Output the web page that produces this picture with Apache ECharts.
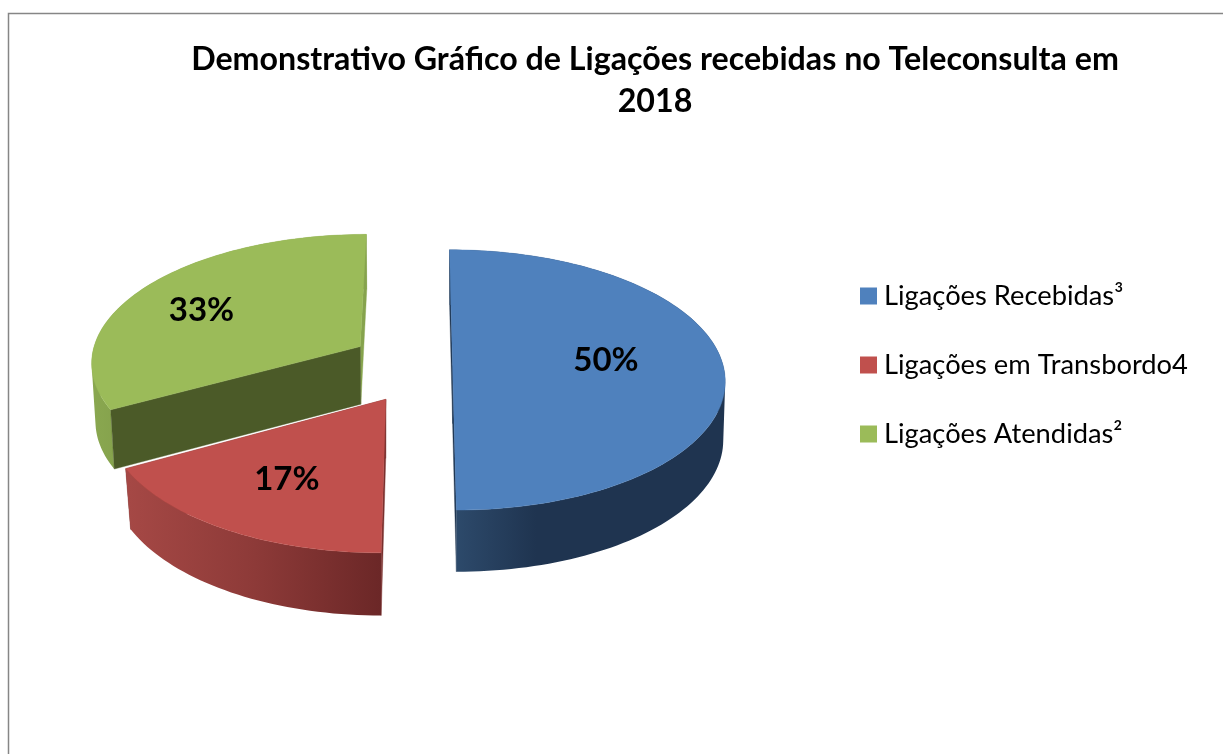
<!DOCTYPE html>
<html>
<head>
<meta charset="utf-8">
<style>html,body{margin:0;padding:0;background:#fff}#c{width:1223px;height:754px}</style>
<script src="https://cdn.jsdelivr.net/npm/echarts@6/dist/echarts.min.js"></script>
</head>
<body>
<div id="c"></div>
<script>
// Data
const titleText = 'Demonstrativo Gráfico de Ligações recebidas no Teleconsulta em\n2018';
const categories = ['Ligações Recebidas³', 'Ligações em Transbordo4', 'Ligações Atendidas²'];
const shares = [50, 17, 33];

// Colours
const topColors = ['#4f81bd', '#c0504d', '#9bbb59'];
const firstEdgeColors = ['#1f3550', '#7a2f2d', '#4b5a28'];
const lastEdgeColors = ['#1f3550', '#7a2f2d', '#86a34d'];
const wallStops = [
  [[0, '#2d4a6b'], [0.3, '#1f3450'], [1, '#1f3450']],
  [[0, '#a54845'], [0.5, '#8d3a38'], [1, '#6b2727']],
  [[0, '#8aa850'], [1, '#86a34d']]
];
const wallSpan = [[455, 725], [129, 382], [90, 114]];

// Projection (a tilted, perspective view of the pie plane)
const view = { cx: 422, cy: 363, ax: 270, ay: 128, k: 0.11 };
const lowScale = [0.9926, 0.9806, 0.988];
const lowShift = [3.4, 7.4, 4.9];
const explodeX = [0.113, -0.13, -0.232];
const explodeY = [0.02, 0.275, -0.13];
const labelAt = [[0.57, -0.04], [-0.325, 0.55], [-0.624, -0.304]];

const total = shares.reduce((a, b) => a + b, 0);
function project(X, Y) {
  const s = 1 / (1 - view.k * Y);
  return { x: view.cx + view.ax * X * s, y: view.cy + view.ay * Y * s, s };
}
function topPoint(X, Y) { const p = project(X, Y); return [p.x, p.y]; }
function lowPoint(X, Y, index) {
  const p = project(X, Y);
  return [lowShift[index] + p.x * lowScale[index], p.y + 29 + 29 * p.s];
}
// One compound path of same-wound strips: its silhouette stays tangent to both rims, without seams.
function stripPath(top, low) {
  let d = '';
  for (let i = 0; i + 1 < top.length; i++) {
    let q = [top[i], top[i + 1], low[i + 1], low[i]];
    let area = 0;
    q.forEach((p, j) => { const n = q[(j + 1) % 4]; area += p[0] * n[1] - n[0] * p[1]; });
    if (area < 0) q = q.reverse();
    d += 'M' + q.map(p => p[0].toFixed(2) + ' ' + p[1].toFixed(2)).join('L') + 'Z';
  }
  return d;
}

function renderSlice(index) {
  return function () {
    const before = shares.slice(0, index).reduce((a, b) => a + b, 0);
    const a0 = before / total * 2 * Math.PI;
    const a1 = (before + shares[index]) / total * 2 * Math.PI;
    const ox = explodeX[index], oy = explodeY[index];
    const rim = [];
    const steps = Math.ceil((a1 - a0) / (Math.PI / 120));
    for (let i = 0; i <= steps; i++) {
      const a = a0 + (a1 - a0) * i / steps;
      rim.push([ox + Math.sin(a), oy - Math.cos(a)]);
    }
    const rimTop = rim.map(p => topPoint(p[0], p[1]));
    const rimLow = rim.map(p => lowPoint(p[0], p[1], index));
    const apexTop = topPoint(ox, oy);
    const apexLow = lowPoint(ox, oy, index);
    const span = wallSpan[index];
    const fillWall = new echarts.graphic.LinearGradient(span[0], 0, span[1], 0,
      wallStops[index].map(s => ({ offset: s[0], color: s[1] })), true);
    const poly = (points, fill) => ({ type: 'polygon', shape: { points }, style: { fill, stroke: fill, lineWidth: 0.4 } });
    const firstWall = poly([apexTop, rimTop[0], rimLow[0], apexLow], firstEdgeColors[index]);
    const lastWall = poly([apexTop, rimTop[rimTop.length - 1], rimLow[rimLow.length - 1], apexLow], lastEdgeColors[index]);
    const outerWall = { type: 'path', shape: { pathData: stripPath(rimTop, rimLow) }, style: { fill: fillWall } };
    // A cut face is painted over the outer wall only when it turns towards the viewer.
    const firstFaces = -Math.cos(a0 - Math.PI / 2) > 0.5;
    const lastFaces = -Math.cos(a1 + Math.PI / 2) > 0.5;
    const children = [];
    if (!firstFaces) children.push(firstWall);
    if (!lastFaces) children.push(lastWall);
    children.push(outerWall);
    if (firstFaces) children.push(firstWall);
    if (lastFaces) children.push(lastWall);
    children.push(poly([apexTop].concat(rimTop), topColors[index]));
    const lp = topPoint(ox + labelAt[index][0], oy + labelAt[index][1]);
    children.push({
      type: 'text',
      style: {
        x: lp[0], y: lp[1],
        text: Math.round(shares[index] / total * 100) + '%',
        fill: '#000', align: 'center', verticalAlign: 'middle',
        fontFamily: 'Lato', fontWeight: 'bold', fontSize: 33
      }
    });
    return { type: 'group', children };
  };
}

const drawOrder = [2, 1, 0];
const chart = echarts.init(document.getElementById('c'), null, { renderer: 'canvas' });
chart.setOption({
  animation: false,
  backgroundColor: '#ffffff',
  title: {
    text: titleText,
    left: 650, top: 34,
    textAlign: 'center',
    textStyle: { fontFamily: 'Lato', fontWeight: 'bold', fontSize: 32.2, lineHeight: 42, color: '#000' }
  },
  legend: {
    data: categories,
    orient: 'vertical',
    left: 860, top: 282,
    padding: 0,
    itemWidth: 17, itemHeight: 17,
    itemGap: 41,
    icon: 'rect',
    selectedMode: false,
    textStyle: { fontFamily: 'Lato', fontSize: 27.3, color: '#000', lineHeight: 28, padding: [0, 0, 0, 2] }
  },
  graphic: [{
    type: 'polyline', silent: true,
    shape: { points: [[8.5, 760], [8.5, 13.5], [1230, 13.5]] },
    style: { fill: null, stroke: '#868686', lineWidth: 1.5 }
  }],
  series: drawOrder.map(i => ({
    type: 'custom',
    name: categories[i],
    coordinateSystem: 'none',
    silent: true,
    z: 2 + (2 - i),
    itemStyle: { color: topColors[i] },
    data: [shares[i]],
    renderItem: renderSlice(i)
  }))
});
</script>
</body>
</html>
